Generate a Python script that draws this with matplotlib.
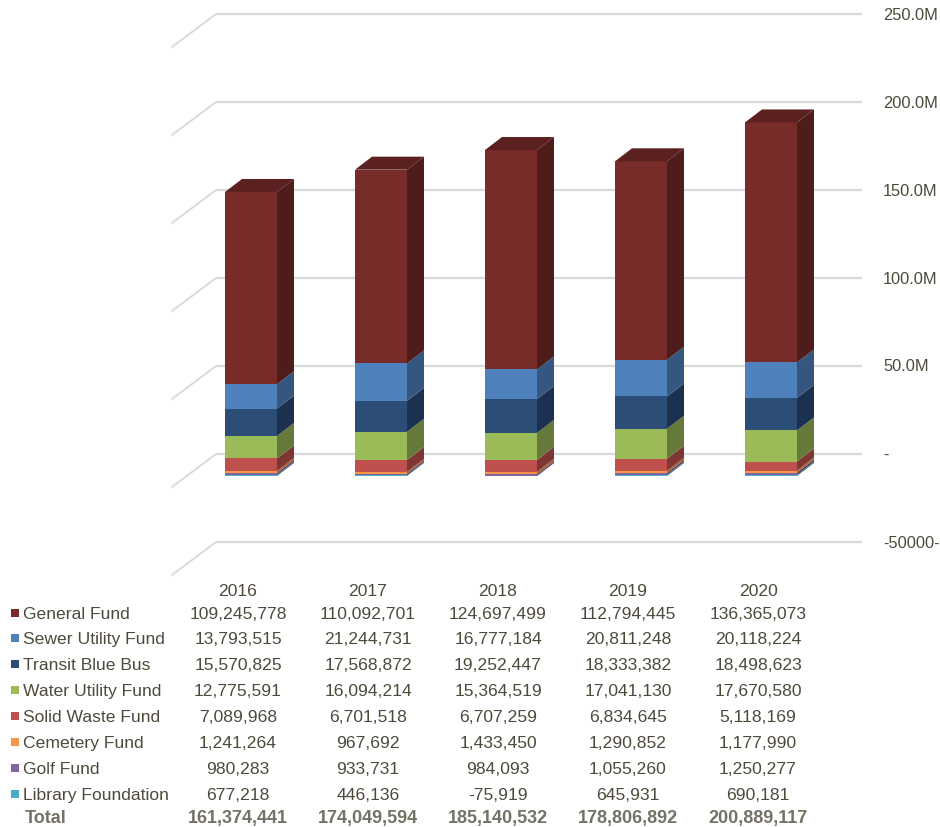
import matplotlib
matplotlib.use("Agg")
import matplotlib.pyplot as plt
from matplotlib.patches import Polygon, Rectangle
from matplotlib.transforms import blended_transform_factory

plt.rcParams['font.family'] = ['Liberation Sans', 'DejaVu Sans']

years = ['2016', '2017', '2018', '2019', '2020']
funds = ['General Fund', 'Sewer Utility Fund', 'Transit Blue Bus', 'Water Utility Fund',
         'Solid Waste Fund', 'Cemetery Fund', 'Golf Fund', 'Library Foundation']
general = [109245778, 110092701, 124697499, 112794445, 136365073]
sewer = [13793515, 21244731, 16777184, 20811248, 20118224]
transit = [15570825, 17568872, 19252447, 18333382, 18498623]
water = [12775591, 16094214, 15364519, 17041130, 17670580]
solid = [7089968, 6701518, 6707259, 6834645, 5118169]
cemetery = [1241264, 967692, 1433450, 1290852, 1177990]
golf = [980283, 933731, 984093, 1055260, 1250277]
library = [677218, 446136, -75919, 645931, 690181]
totals = ['161,374,441', '174,049,594', '185,140,532', '178,806,892', '200,889,117']
tick_values = [250, 200, 150, 100, 50, 0, -50]
tick_labels = ['250.0M', '200.0M', '150.0M', '100.0M', '50.0M', '-', '-50000-']

series = [general, sewer, transit, water, solid, cemetery, golf, library]
front_cols = ['#772C2A', '#4F81BD', '#2C4D75', '#9BBB59', '#C0504D', '#F79646', '#8064A2', '#4BACC6']
side_cols = ['#4E1C1B', '#35577F', '#1C3150', '#657A3A', '#7F3533', '#A6632E', '#54416B', '#317183']
top_cols = ['#5A2120', '#4170A8', '#25416A', '#87A34C', '#A84542', '#D98340', '#705891', '#429AB2']
txt_col = '#4d4a3c'

W, H = 940, 828
fig = plt.figure(figsize=(W / 100, H / 100), dpi=100)
ax = fig.add_axes([0, 0, 1, 1])
ax.set_axis_off()
# front plane: x pixel = 251 + 130*i, y pixel = 477 - 1.76*v (v in millions)
px_per_x, px_per_m = 130.0, 1.76
ax.set_xlim(-251 / px_per_x, (W - 251) / px_per_x)
ax.set_ylim((477 - H) / px_per_m, 477 / px_per_m)

# back wall offsets (data units)
wall_dy = 22 / px_per_m
wall_x0, wall_x1 = (216 - 251) / px_per_x, (862 - 251) / px_per_x
diag_dx, diag_dy = -44 / px_per_x, -33 / px_per_m
for v, lab in zip(tick_values, tick_labels):
    yb = v + wall_dy
    ax.plot([wall_x0, wall_x1], [yb, yb], color='#d9d9d9', lw=1.6, zorder=1, solid_capstyle='butt')
    ax.plot([wall_x0, wall_x0 + diag_dx], [yb, yb + diag_dy], color='#d9d9d9', lw=1.3, zorder=1)
    ax.text((883 - 251) / px_per_x, yb, lab, ha='left', va='center', fontsize=11.8,
            color=txt_col)

# bars
half = 0.2
bdx, bdy = 17 / px_per_x, 13 / px_per_m
stack_order = list(range(len(series)))[::-1]  # bottom: Library ... top: General
for i in range(len(years)):
    pos = 0.0
    neg = 0.0
    segs = []
    for k in stack_order:
        v = series[k][i] / 1e6
        if v >= 0:
            segs.append((k, pos, pos + v))
            pos += v
        else:
            segs.append((k, neg + v, neg))
            neg += v
    for k, y0, y1 in segs:
        ax.add_patch(Rectangle((i - half, y0), 2 * half, y1 - y0, facecolor=front_cols[k],
                               edgecolor='none', zorder=3))
        ax.add_patch(Polygon([(i + half, y0), (i + half + bdx, y0 + bdy),
                              (i + half + bdx, y1 + bdy), (i + half, y1)],
                             closed=True, facecolor=side_cols[k], edgecolor='none', zorder=3))
    k, y0, y1 = segs[-1]
    ax.add_patch(Polygon([(i - half, y1), (i + half, y1), (i + half + bdx, y1 + bdy),
                          (i - half + bdx, y1 + bdy)], closed=True,
                         facecolor=top_cols[k], edgecolor='none', zorder=3))

# data table
tr = blended_transform_factory(ax.transData, fig.transFigure)
def fy(py):
    return 1 - py / H

fs = 12.6
for i, yr in enumerate(years):
    ax.text(i - 0.1, fy(591.5), yr, transform=tr, ha='center', va='center', fontsize=fs, color=txt_col)

row_y = [614.5, 640, 665.5, 691.5, 717.5, 743.5, 769.5, 795.5]
for k, name in enumerate(funds):
    py = row_y[k]
    fig.patches.append(Rectangle((11 / W, fy(py + 3)), 8 / W, 8 / H, transform=fig.transFigure,
                                 facecolor=front_cols[k], edgecolor='none'))
    fig.text(23 / W, fy(py), name, ha='left', va='center', fontsize=fs, color=txt_col)
    for i in range(len(years)):
        ax.text(i - 0.1, fy(py), f'{series[k][i]:,}', transform=tr, ha='center', va='center',
                fontsize=fs, color=txt_col)

fig.text(25 / W, fy(819), 'Total', ha='left', va='center', fontsize=13, color='#747165',
         fontweight='bold')
for i, t in enumerate(totals):
    ax.text(i - 0.1, fy(819), t, transform=tr, ha='center', va='center', fontsize=13,
            color='#747165', fontweight='bold')

fig.savefig('out.png', dpi=100)
